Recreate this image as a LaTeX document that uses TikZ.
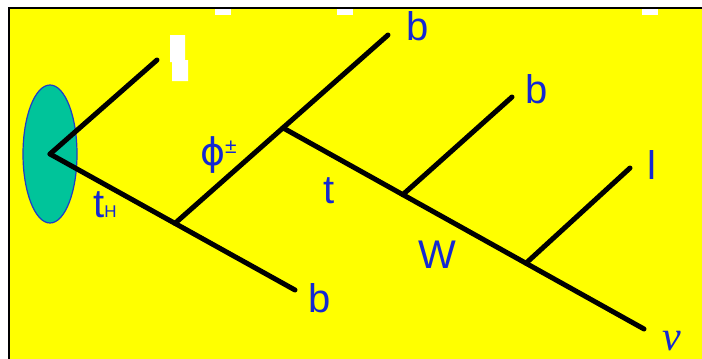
\documentclass[tikz,border=0pt]{standalone}
\usepackage{fontspec}
\setmainfont{Liberation Sans}
\newfontfamily\serifgr{Liberation Serif}
\newfontfamily\dejavu{DejaVu Sans}
\usetikzlibrary{calc}
\definecolor{lblblue}{RGB}{20,40,210}
\definecolor{blobteal}{RGB}{0,196,154}
\definecolor{blobedge}{RGB}{30,60,200}
\definecolor{bgyellow}{RGB}{255,255,0}
\begin{document}
\begin{tikzpicture}[x=1pt,y=-1pt,
  prop/.style={line width=5pt, line cap=round},
  lbl/.style={text=lblblue, inner sep=0pt, anchor=base, font=\fontsize{40}{40}\selectfont},
  patch/.style={fill=white}]
\useasboundingbox (0,0) rectangle (702,359);
\fill[white] (0,0) rectangle (702,359);
\fill[bgyellow] (9,8) rectangle (702,359);
\draw[line width=2pt] (9,359) -- (9,8) -- (702,8);
% white artefacts
\fill[patch] (215,9) rectangle (231,15);
\fill[patch] (337,9) rectangle (353,15);
\fill[patch] (642,9) rectangle (658,15);
\fill[patch] (170,35) -- (185,35) -- (185,60) -- (188,60) -- (188,81) -- (172,81) -- (172,62) -- (170,62) -- cycle;
% blob
\coordinate (V) at (50,154);
\draw[fill=blobteal, draw=blobedge, line width=1.2pt] (V) ellipse [x radius=27, y radius=69];
% end points
\coordinate (eU) at (157,60);
\coordinate (bB) at (295,290);
\coordinate (bT) at (388,35);
\coordinate (nuE) at (644,329);
\coordinate (bM) at (512,97);
\coordinate (lE) at (630,168);
\coordinate (J1) at ($(V)!0.51!(bB)$);
\coordinate (J2) at ($(J1)!0.507!(bT)$);
\coordinate (J3) at ($(J2)!0.332!(nuE)$);
\coordinate (J4) at ($(J2)!0.673!(nuE)$);
% lines
\draw[prop] (V) -- (eU);
\draw[prop] (V) -- (bB);
\draw[prop] (J1) -- (bT);
\draw[prop] (J2) -- (nuE);
\draw[prop] (J3) -- (bM);
\draw[prop] (J4) -- (lE);
% labels
\node[lbl] (lbT) at (418,40) {b};
\node[lbl] (lbM) at (537,103) {b};
\node[lbl] (lbB) at (320,312) {b};
\node[lbl] (ll) at (652,179) {l};
\node[lbl] (lW) at (437,268) {W};
\node[lbl] (lt) at (329,203) {t};
\node[lbl, anchor=base west] (ltH) at (93,217) {t\fontsize{17}{17}\selectfont H};
\node[lbl, font=\serifgr\itshape\fontsize{42}{42}\selectfont] (lnu) at (672,350) {ν};
\node[lbl, anchor=center, font=\dejavu\fontsize{38}{38}\selectfont] (lphi) at (213,155) {ϕ};
\node[lbl, anchor=center, font=\fontsize{21}{21}\selectfont] (lpm) at (231,147) {±};
\end{tikzpicture}
\end{document}
